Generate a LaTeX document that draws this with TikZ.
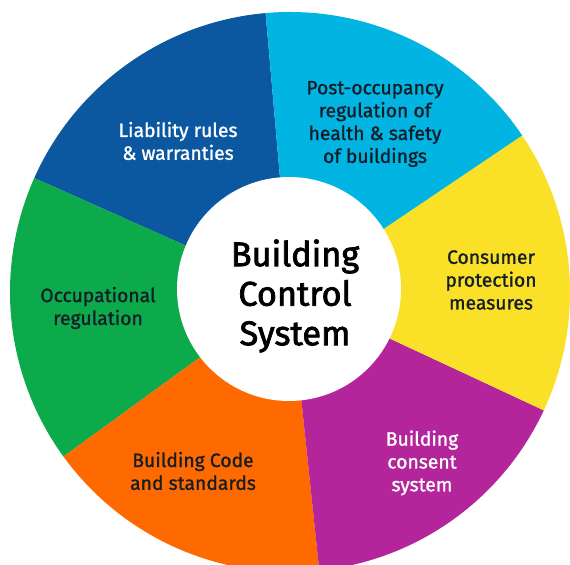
\documentclass[tikz,border=0pt]{standalone}
\usepackage{fontspec}
\setmainfont{Fira Sans}
\newfontfamily\medfont{Fira Sans}[FakeBold=1.2]
\newfontfamily\heavyfont{Fira Sans}[FakeBold=2.2]
\usetikzlibrary{positioning}

\definecolor{liabblue}{RGB}{12,88,160}
\definecolor{postblue}{RGB}{2,180,226}
\definecolor{consyellow}{RGB}{250,224,38}
\definecolor{conspurple}{RGB}{180,36,154}
\definecolor{codeorange}{RGB}{255,106,0}
\definecolor{occgreen}{RGB}{13,170,76}
\definecolor{darktext}{RGB}{20,30,40}

\tikzset{
    sectortext/.style={align=center, inner sep=0pt, font=\medfont\fontsize{11}{13}\selectfont},
    centretext/.style={align=center, inner sep=0pt, font=\heavyfont\fontsize{19.5}{22.5}\selectfont}
}

\begin{document}
\begin{tikzpicture}[x=0.02cm, y=0.02cm]
        \useasboundingbox (0, 0) rectangle (570, 564);
        \clip (0, 0) rectangle (570, 564);
        \fill [white] (0, 0) rectangle (570, 564);

        \coordinate (O) at (290, 272);
        \coordinate (I) at (289, 275);

        \fill [liabblue] (O) -- ++(95:280) arc (95:156:280) -- cycle;
        \fill [occgreen] (O) -- ++(156:280) arc (156:216:280) -- cycle;
        \fill [codeorange] (O) -- ++(216:280) arc (216:276:280) -- cycle;
        \fill [conspurple] (O) -- ++(276:280) arc (276:335:280) -- cycle;
        \fill [consyellow] (O) -- ++(-25:280) arc (-25:34:280) -- cycle;
        \fill [postblue] (O) -- ++(34:280) arc (34:95:280) -- cycle;

        \fill [white] (I) circle (112);

        \node [centretext, text=black] (C) at (295, 268) {Building\\Control\\System};

        \node [sectortext, text=white] (L1) at (178, 423) {Liability rules\\\& warranties};
        \node [sectortext, text=darktext] (L2) at (375, 440) {Post-occupancy\\regulation of\\health \& safety\\of buildings};
        \node [sectortext, text=darktext] (L3) at (491, 284) {Consumer\\protection\\measures};
        \node [sectortext, text=white] (L4) at (422, 101) {Building\\consent\\system};
        \node [sectortext, text=darktext] (L5) at (193, 93) {Building Code\\and standards};
        \node [sectortext, text=darktext] (L6) at (98, 256) {Occupational\\regulation};
    \end{tikzpicture}
\end{document}
